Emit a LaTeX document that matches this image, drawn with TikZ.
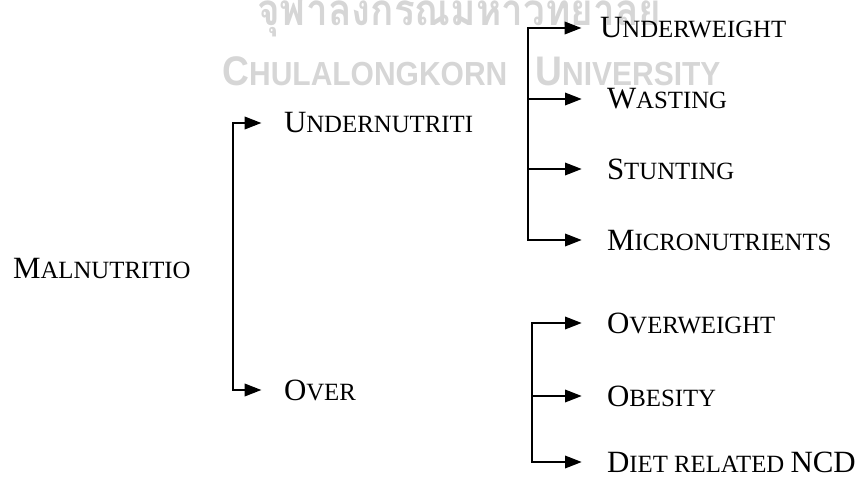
\documentclass[tikz,border=0pt]{standalone}
\usepackage{fontspec}
\setmainfont{Liberation Serif}
\newfontfamily\thaifont[Script=Thai]{Loma}
\newfontfamily\wmfont{Liberation Sans}
\usepackage{tikz}
\usetikzlibrary{arrows.meta}

\definecolor{wmgray}{gray}{0.84}
\newcommand\smc[1]{{\fontsize{18.6pt}{20pt}\selectfont #1}}
\newcommand\wmsmc[1]{{\fontsize{25pt}{26pt}\selectfont #1}}

\tikzset{
    term/.style={inner sep=0pt, outer sep=0pt, anchor=west, font=\fontsize{23.2pt}{26pt}\selectfont},
    link/.style={line width=1pt, -{Triangle[length=12.5pt,width=9.5pt]}, shorten >=#1},
    link/.default=19pt,
    mark wm/.style={inner sep=0pt, text=wmgray, anchor=base west}
}

\begin{document}
\begin{tikzpicture}[x=0.75pt, y=-0.75pt]
    \useasboundingbox (0,0) rectangle (863,477);
    % watermark
    \node[mark wm, font=\thaifont\bfseries\fontsize{33pt}{34pt}\selectfont, xscale=0.88] (wmthai) at (257,26) {จุฬาลงกรณ์มหาวิทยาลัย};
    \node[mark wm, font=\wmfont\bfseries\fontsize{31pt}{33pt}\selectfont, xscale=0.9] (wmchula) at (222,86) {C\wmsmc{HULALONGKORN}};
    \node[mark wm, font=\wmfont\bfseries\fontsize{31pt}{33pt}\selectfont, xscale=0.9] (wmuni) at (535,86) {U\wmsmc{NIVERSITY}};

    % terms
    \node[term] (mal) at (13,268) {M\smc{ALNUTRITIO}};
    \node[term] (under) at (284,123) {U\smc{NDERNUTRITI}};
    \node[term] (over) at (284,390) {O\smc{VER}};

    \node[term] (uweight) at (600,28) {U\smc{NDERWEIGHT}};
    \node[term] (wasting) at (607,99) {W\smc{ASTING}};
    \node[term] (stunting) at (607,169) {S\smc{TUNTING}};
    \node[term] (micro) at (607,240) {M\smc{ICRONUTRIENTS}};

    \node[term] (oweight) at (607,323) {O\smc{VERWEIGHT}};
    \node[term] (obesity) at (607,396) {O\smc{BESITY}};
    \node[term] (ncd) at (607,462) {D\smc{IET RELATED }NCD};

    \coordinate (mtrunk) at (233,268);
    \coordinate (utrunk) at (528,130);
    \coordinate (otrunk) at (532,390);

    \draw[link=17pt] (mtrunk) |- (under);
    \draw[link=17pt] (mtrunk) |- (over);
    \draw[link=14pt] (utrunk) |- (uweight);
    \foreach \t in {wasting,stunting,micro}
        \draw[link] (utrunk) |- (\t);
    \foreach \t in {oweight,obesity,ncd}
        \draw[link] (otrunk) |- (\t);
\end{tikzpicture}
\end{document}
